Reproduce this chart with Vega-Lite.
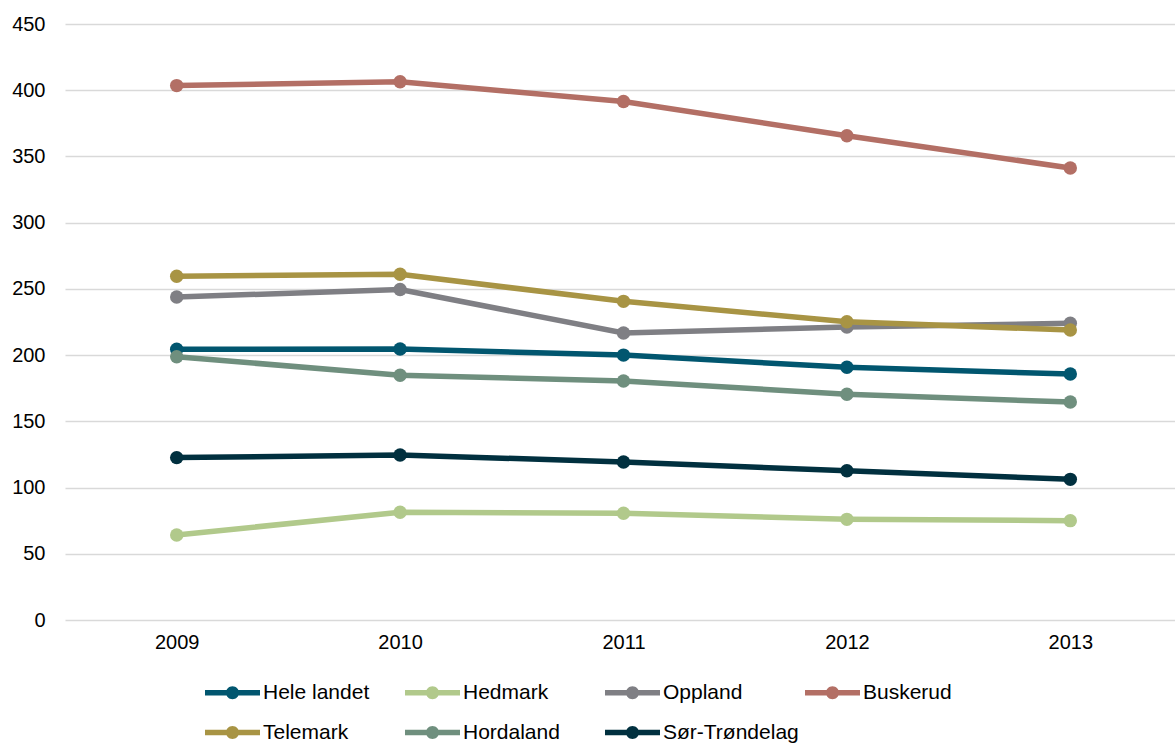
{
  "$schema": "https://vega.github.io/schema/vega-lite/v6.json",
  "autosize": "none",
  "width": 1117,
  "height": 596,
  "padding": {"left": 65, "top": 24, "right": 0, "bottom": 127},
  "background": "white",
  "config": {
    "font": "Liberation Sans",
    "view": {"stroke": null},
    "axis": {"labelFont": "Liberation Sans", "labelColor": "#000000", "labelFontSize": 20}
  },
  "data": {"values": [
    {"year": "2009", "region": "Hele landet", "value": 204.4},
    {"year": "2010", "region": "Hele landet", "value": 204.6},
    {"year": "2011", "region": "Hele landet", "value": 200},
    {"year": "2012", "region": "Hele landet", "value": 190.8},
    {"year": "2013", "region": "Hele landet", "value": 185.7},
    {"year": "2009", "region": "Hedmark", "value": 64.2},
    {"year": "2010", "region": "Hedmark", "value": 81.3},
    {"year": "2011", "region": "Hedmark", "value": 80.6},
    {"year": "2012", "region": "Hedmark", "value": 76},
    {"year": "2013", "region": "Hedmark", "value": 75},
    {"year": "2009", "region": "Oppland", "value": 243.9},
    {"year": "2010", "region": "Oppland", "value": 249.5},
    {"year": "2011", "region": "Oppland", "value": 216.7},
    {"year": "2012", "region": "Oppland", "value": 221.2},
    {"year": "2013", "region": "Oppland", "value": 224},
    {"year": "2009", "region": "Buskerud", "value": 403.5},
    {"year": "2010", "region": "Buskerud", "value": 406.4},
    {"year": "2011", "region": "Buskerud", "value": 391.5},
    {"year": "2012", "region": "Buskerud", "value": 365.6},
    {"year": "2013", "region": "Buskerud", "value": 341.3},
    {"year": "2009", "region": "Telemark", "value": 259.5},
    {"year": "2010", "region": "Telemark", "value": 261},
    {"year": "2011", "region": "Telemark", "value": 240.6},
    {"year": "2012", "region": "Telemark", "value": 225.2},
    {"year": "2013", "region": "Telemark", "value": 218.9},
    {"year": "2009", "region": "Hordaland", "value": 198.8},
    {"year": "2010", "region": "Hordaland", "value": 184.8},
    {"year": "2011", "region": "Hordaland", "value": 180.5},
    {"year": "2012", "region": "Hordaland", "value": 170.4},
    {"year": "2013", "region": "Hordaland", "value": 164.6},
    {"year": "2009", "region": "Sør-Trøndelag", "value": 122.6},
    {"year": "2010", "region": "Sør-Trøndelag", "value": 124.6},
    {"year": "2011", "region": "Sør-Trøndelag", "value": 119.3},
    {"year": "2012", "region": "Sør-Trøndelag", "value": 112.7},
    {"year": "2013", "region": "Sør-Trøndelag", "value": 106.2}
  ]},
  "encoding": {
    "x": {"field": "year", "type": "ordinal", "scale": {"type": "point", "padding": 0.5},
      "axis": {"title": null, "labelAngle": 0, "domain": false, "ticks": false, "labelPadding": 12}},
    "y": {"field": "value", "type": "quantitative", "scale": {"domain": [0, 450], "nice": false},
      "axis": {"title": null, "values": [0,50,100,150,200,250,300,350,400,450], "domain": false, "ticks": false,
        "gridColor": "#d9d9d9", "gridWidth": 1.5, "labelPadding": 20}},
    "color": {"field": "region", "type": "nominal",
      "scale": {"domain": ["Hele landet","Hedmark","Oppland","Buskerud","Telemark","Hordaland","Sør-Trøndelag"],
        "range": ["#01566f","#b1c98b","#7f7f84","#b36f65","#a89444","#6f8f7e","#01303f"]},
      "legend": {"title": null, "orient": "none", "legendX": 157, "legendY": 658, "direction": "horizontal",
        "columns": 4, "gridAlign": "all", "columnPadding": 6, "rowPadding": 18,
        "symbolType": "M-2.75,-0.28H2.75V0.28H-2.75Z M-0.65,0A0.65,0.65 0 1,1 0.65,0A0.65,0.65 0 1,1 -0.65,0Z",
        "symbolSize": 400, "symbolStrokeWidth": 0, "symbolOpacity": 1,
        "labelFontSize": 21, "labelColor": "#000", "labelOffset": 20, "labelFont": "Liberation Sans"}}
  },
  "layer": [
    {"mark": {"type": "line", "strokeWidth": 5.5}},
    {"mark": {"type": "point", "filled": true, "size": 180, "opacity": 1}}
  ]
}
